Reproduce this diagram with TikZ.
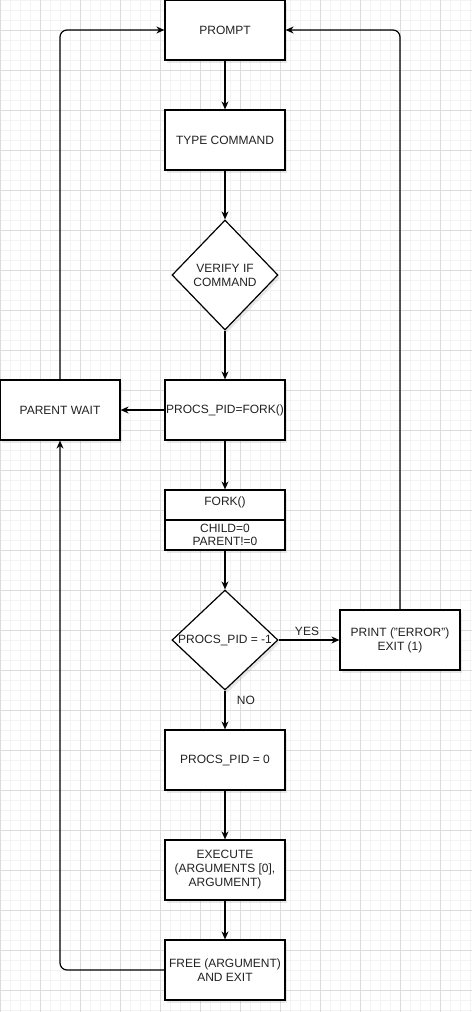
\documentclass[tikz,border=0pt]{standalone}
\usepackage{fontspec}
\setmainfont{Liberation Sans}
\usepackage{xcolor}
\usepackage{tikz}
\usetikzlibrary{shapes,arrows.meta,shadows}

\definecolor{gridminor}{HTML}{F3F3F3}
\definecolor{gridmajor}{HTML}{DCDCDC}
\definecolor{inkgray}{HTML}{222222}

\begin{document}
\begin{tikzpicture}[x=1pt, y=-1pt, >={Stealth[length=8pt,width=7pt]},
        font=\fontsize{12}{14}\selectfont,
        box/.style={draw, line width=1.2pt, fill=white, minimum width=120pt, minimum height=60pt,
            align=center, inner sep=1pt, text=inkgray,
            drop shadow={shadow xshift=2pt, shadow yshift=-3pt, opacity=0.18, fill=gray}},
        decision/.style={draw, line width=1.2pt, fill=white, diamond, inner sep=0pt,
            drop shadow={shadow xshift=2pt, shadow yshift=-3pt, opacity=0.18, fill=gray}},
        flow/.style={->, line width=1.2pt},
        back/.style={->, line width=1.2pt, rounded corners=7pt}]
        \useasboundingbox (0,0) rectangle (472,1012);

        % Grid paper
        \fill[white] (0,0) rectangle (472,1012);
        \foreach \x in {0,10,...,470} \draw[gridminor, line width=0.8pt] (\x,0) -- (\x,1012);
        \foreach \y in {0,10,...,1010} \draw[gridminor, line width=0.8pt] (0,\y) -- (472,\y);
        \foreach \x in {0,40,...,440} \draw[gridmajor, line width=0.8pt] (\x,0) -- (\x,1012);
        \foreach \y in {30,70,...,990} \draw[gridmajor, line width=0.8pt] (0,\y) -- (472,\y);

        % Main column
        \node[box] (prompt) at (225,30) {PROMPT};
        \node[box] (type) at (225,140) {TYPE COMMAND};
        \node[decision, minimum width=106pt, minimum height=110pt,
            label={[align=center, text=inkgray]center:VERIFY IF\\COMMAND}] (verify) at (225,275) {};
        \node[box] (pid) at (225,410) {PROCS\_PID=FORK()};
        \node[box] (wait) at (60,410) {PARENT WAIT};
        \node[box] (fork) at (225,520) {};
        \node[text=inkgray] (forktop) at (225,502) {FORK()};
        \node[text=inkgray, align=center, font=\fontsize{12}{13}\selectfont] (forkbot) at (225,535) {CHILD=0\\PARENT!=0};
        \node[decision, minimum width=106pt, minimum height=100pt,
            label={[text=inkgray]center:PROCS\_PID = -1}] (check) at (225,640) {};
        \node[box] (err) at (400,640) {PRINT ("ERROR")\\EXIT (1)};
        \node[box] (child) at (225,760) {PROCS\_PID = 0};
        \node[box] (exec) at (225,870) {EXECUTE\\(ARGUMENTS [0],\\ARGUMENT)};
        \node[box] (free) at (225,970) {FREE (ARGUMENT)\\AND EXIT};

        % Divider of the fork box
        \draw[line width=1.2pt] (fork.west) -- (fork.east);

        % Connectors
        \draw[flow] (prompt) -- (type);
        \draw[flow] (type) -- (verify);
        \draw[flow] (verify) -- (pid);
        \draw[flow] (pid) -- (wait);
        \draw[flow] (pid) -- (fork);
        \draw[flow] (fork) -- (check);
        \draw[flow] (check.east) -- node[above, xshift=-2pt, text=inkgray] {YES} (err.west);
        \draw[flow] (check.south) -- node[right, xshift=8pt, pos=0.25, text=inkgray] {NO} (child.north);
        \draw[flow] (child) -- (exec);
        \draw[flow] (exec) -- (free);

        % Loops back
        \draw[back] (free.west) -| (wait.south);
        \draw[back] (wait.north) |- (prompt.west);
        \draw[back] (err.north) |- (prompt.east);
    \end{tikzpicture}
\end{document}
